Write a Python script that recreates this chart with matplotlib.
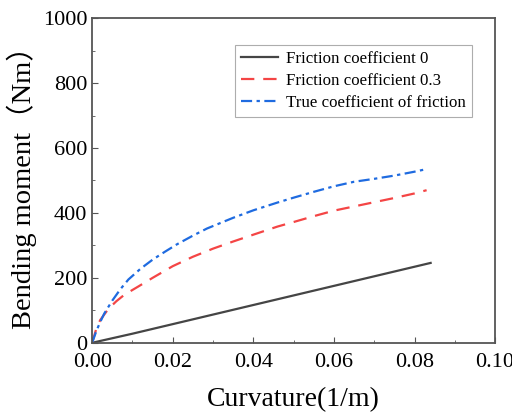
import numpy as np
import matplotlib.pyplot as plt
from matplotlib.ticker import MultipleLocator

plt.rcParams['font.family'] = ['Liberation Serif', 'Noto Sans CJK SC']
plt.rcParams['mathtext.fontset'] = 'stix'

# curvature / bending moment data
x_f0 = [0.0, 0.01, 0.084]
y_f0 = [0.0, 28, 246]

x_f03 = [0.0, 0.001, 0.002, 0.004, 0.006, 0.008, 0.0114, 0.015, 0.02, 0.025, 0.03,
         0.035, 0.04, 0.046, 0.05, 0.055, 0.06, 0.065, 0.07, 0.075, 0.08, 0.083]
y_f03 = [0, 42, 70, 104, 128, 148, 173, 200, 236, 265, 290,
         312, 333, 358, 372, 390, 407, 420, 433, 446, 460, 470]

x_true = [0.0, 0.001, 0.002, 0.003, 0.005, 0.007, 0.009, 0.012, 0.015, 0.018, 0.021, 0.025,
          0.0285, 0.035, 0.04, 0.046, 0.05, 0.055, 0.06, 0.065, 0.07, 0.075, 0.08, 0.083]
y_true = [0, 35, 64, 90, 130, 165, 195, 228, 256, 280, 303, 330,
          352, 385, 408, 432, 447, 465, 482, 496, 505, 515, 527, 535]

fig = plt.figure(figsize=(5.12, 4.12), dpi=100)
ax = fig.add_axes([0.18, 0.168, 0.787, 0.788])

ax.plot(x_f0, y_f0, '-', color='#454545', lw=1.6, label='Friction coefficient 0')
ax.plot(x_f03, y_f03, '--', color='#f44545', lw=1.6, dashes=(6, 4), label='Friction coefficient 0.3')
ax.plot(x_true, y_true, '-.', color='#1f6be0', lw=1.6, dashes=(5, 2, 1.5, 2), label='True coefficient of friction')

ax.set_xlim(0, 0.10)
ax.set_ylim(0, 1000)
ax.xaxis.set_minor_locator(MultipleLocator(0.01))
ax.yaxis.set_major_locator(MultipleLocator(200))
ax.yaxis.set_minor_locator(MultipleLocator(100))
ax.set_xticks([0, 0.02, 0.04, 0.06, 0.08, 0.10])
ax.set_xticklabels(['0.00', '0.02', '0.04', '0.06', '0.08', '0.10'])
ax.tick_params(which='both', direction='in', labelsize=16, color='#555555')
ax.tick_params(which='major', length=4)
ax.tick_params(which='minor', length=2.5)
ax.tick_params(axis='x', pad=7)
for s in ax.spines.values():
    s.set_color('#555555')
    s.set_linewidth(1.3)

ax.set_xlabel('Curvature(1/m)', fontsize=20, labelpad=11)
ax.set_ylabel('Bending moment（Nm）', fontsize=20.5, labelpad=0)
ax.yaxis.set_label_coords(-0.138, 0.5)

leg = ax.legend(loc='upper right', bbox_to_anchor=(0.943, 0.917), fontsize=12.2, frameon=True,
                fancybox=False, handlelength=2.2, handletextpad=0.5, borderpad=0.35,
                labelspacing=0.35, borderaxespad=0)
leg.get_frame().set_edgecolor('#999999')
leg.get_frame().set_linewidth(0.8)

plt.savefig('out.png', dpi=100)
